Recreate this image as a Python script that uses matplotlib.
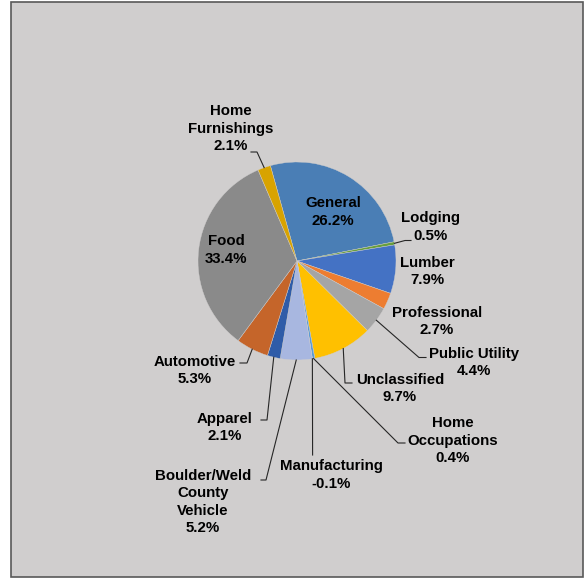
import numpy as np
import matplotlib
matplotlib.use("Agg")
import matplotlib.pyplot as plt
from matplotlib.patches import Rectangle

# sales tax share by category
categories = ["General", "Lodging", "Lumber", "Professional", "Public Utility",
              "Unclassified", "Home\nOccupations", "Manufacturing",
              "Boulder/Weld\nCounty\nVehicle", "Apparel", "Automotive", "Food",
              "Home\nFurnishings"]
shares = [26.2, 0.5, 7.9, 2.7, 4.4, 9.7, 0.4, -0.1, 5.2, 2.1, 5.3, 33.4, 2.1]
colors = ["#4A7EB5", "#689F3C", "#4472C4", "#ED7D31", "#A5A5A5", "#FFC000",
          "#5B9BD5", "#70AD47", "#A8B7E0", "#2F5CA8", "#C5652A", "#8A8A8A",
          "#D8A300"]

W, H = 584, 579
CX, CY, R = 297, 261, 99

# label layout in pixels: text centre, then leader elbow/end (None = no leader)
label_pos = {
    "General": ((333, 212), None),
    "Lodging": ((430, 227), [(405, 240.5), (411, 240.5)]),
    "Lumber": ((427, 271.5), None),
    "Professional": ((437, 321.5), None),
    "Public Utility": ((474, 362.5), [(419, 357.5), (426, 357.5)]),
    "Unclassified": ((400, 388.5), [(345, 383), (352, 383)]),
    "Home\nOccupations": ((453, 440.5), [(398, 443), (405, 443)]),
    "Manufacturing": ((331, 475), [(312.6, 455)]),
    "Boulder/Weld\nCounty\nVehicle": ((203, 502), [(266, 480), (261, 480)]),
    "Apparel": ((225, 427.5), [(267, 420), (261, 420)]),
    "Automotive": ((195, 370.5), [(247, 363), (240, 363)]),
    "Food": ((226, 250), None),
    "Home\nFurnishings": ((231, 128.5), [(257, 152), (251, 152)]),
}

plt.rcParams['font.family'] = ['Liberation Sans', 'DejaVu Sans']

fig = plt.figure(figsize=(W / 100, H / 100), dpi=100)
fig.patches.append(Rectangle((11 / W, 2 / H), 572 / W, 575 / H,
                             transform=fig.transFigure, facecolor="#D0CECE",
                             edgecolor="#595959", linewidth=1.2, zorder=-10))

ax = fig.add_axes([(CX - R) / W, (H - CY - R) / H, 2 * R / W, 2 * R / H])
ax.axis("off")

values = np.clip(shares, 0, None)
wedges, _ = ax.pie(values, colors=colors, startangle=105.6, counterclock=False,
                   radius=1, center=(0, 0),
                   wedgeprops=dict(linewidth=0.3, edgecolor="#D0CECE"))
ax.set_xlim(-1, 1)
ax.set_ylim(-1, 1)


def to_data(p):
    return ((p[0] - CX) / R, (CY - p[1]) / R)


for w, name, val in zip(wedges, categories, shares):
    (tx, ty), leader = label_pos[name]
    x, y = to_data((tx, ty))
    ax.text(x, y, f"{name}\n{val:.1f}%", ha="center", va="center",
            fontsize=10.8, fontweight="bold", color="black",
            linespacing=1.28, clip_on=False)
    if leader:
        mid = np.deg2rad((w.theta1 + w.theta2) / 2)
        pts = [(np.cos(mid), np.sin(mid))] + [to_data(p) for p in leader]
        xs, ys = zip(*pts)
        ax.plot(xs, ys, color="#262626", linewidth=0.8, clip_on=False)

fig.savefig("out.png", dpi=100)
